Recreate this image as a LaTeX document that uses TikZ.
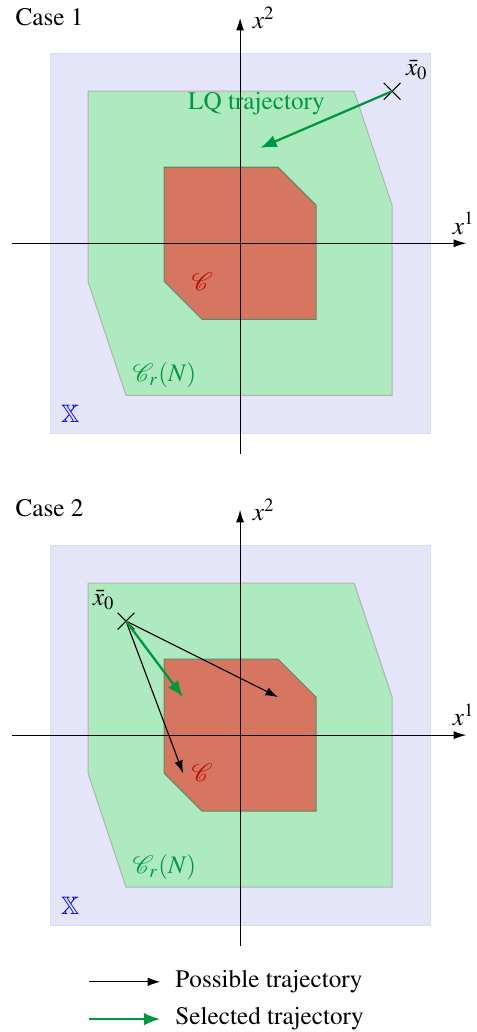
\documentclass[tikz,border=0pt]{standalone}
\usepackage[T1]{fontenc}
\usepackage{amssymb}
\usepackage{mathrsfs}
\usepackage{mathptmx}
\usetikzlibrary{arrows.meta, positioning, shapes.misc}

\definecolor{setX}{RGB}{229,229,250}
\definecolor{setXborder}{RGB}{220,220,240}
\definecolor{setCrN}{RGB}{174,234,192}
\definecolor{setC}{RGB}{214,118,96}
\definecolor{setCborder}{RGB}{95,135,100}
\definecolor{lqgreen}{RGB}{0,152,62}
\definecolor{cred}{RGB}{185,10,10}

\tikzset{
  axis/.style={-{Latex[length=5pt,width=3.2pt]}, line width=0.45pt},
  traj/.style={-{Latex[length=5pt,width=3.4pt]}, line width=0.45pt},
  seltraj/.style={-{Latex[length=6.5pt,width=5pt]}, lqgreen, line width=0.9pt},
  xmark/.style={cross out, draw, line width=0.45pt, minimum size=6.2pt, inner sep=0pt},
}

\begin{document}
\begin{tikzpicture}[x=0.53cm, y=0.53cm]
  \useasboundingbox (-6.316,6.40) rectangle (6.21,-20.75);

  % 領域と座標軸（両ケース共通）
  \foreach \cs/\dy in {1/0, 2/-12.94}{
    \begin{scope}[shift={(0,\dy)}]
      \filldraw[fill=setX, draw=setXborder] (-5,-5) rectangle (5,5);
      \filldraw[fill=setCrN, draw=gray!60, thin] (-4,4) -- (3,4) -- (4,1) -- (4,-4) -- (-3,-4) -- (-4,-1) -- cycle;
      \filldraw[fill=setC, draw=setCborder, thin] (-2,2) -- (1,2) -- (2,1) -- (2,-2) -- (-1,-2) -- (-2,-1) -- cycle;

      \coordinate (xl\cs) at (-6,0);
      \coordinate (xr\cs) at (5.95,0);
      \coordinate (yb\cs) at (0,-5.55);
      \coordinate (yt\cs) at (0,5.93);
      \draw[axis] (xl\cs) -- (xr\cs);
      \draw[axis] (yb\cs) -- (yt\cs);
      \node[above, xshift=-1pt] (lxa\cs) at (xr\cs) {$x^1$};
      \node[right, xshift=1.5pt] (lxb\cs) at (yt\cs) {$x^2$};

      % 集合のラベル
      \node[cred] (lc\cs) at (-1,-1) {$\mathscr{C}$};
      \node[lqgreen] (lcr\cs) at (-1.99,-3.47) {$\mathscr{C}_r(N)$};
      \node[blue] (lx\cs) at (-4.47,-4.49) {$\mathbb{X}$};
      \node[anchor=base west, inner sep=0pt] (case\cs) at (-5.92,5.74) {Case \cs};
    \end{scope}
  }

  % Case 1: LQ軌道
  \node[xmark] (xa) at (4,4) {};
  \node[above right=0pt and 1pt of xa, inner sep=1pt] (lxa) {$\bar{x}_0$};
  \coordinate (lqend) at (0.53,2.51);
  \draw[seltraj] (xa.center) -- (lqend);
  \node[lqgreen] (lq) at (0.43,3.66) {LQ trajectory};

  % Case 2: 候補の軌道
  \begin{scope}[shift={(0,-12.94)}]
    \node[xmark] (xb) at (-3,3) {};
    \node[above left=0pt and 0pt of xb, inner sep=1pt] (lxb) {$\bar{x}_0$};
    \coordinate (ta) at (1,1);
    \coordinate (tb) at (-1.5,-1);
    \coordinate (tc) at (-1.5,1);
    \draw[traj] (xb.center) -- (ta);
    \draw[traj] (xb.center) -- (tb);
    \draw[seltraj] (xb.center) -- (tc);

    % 凡例
    \coordinate (pa) at (-3.97,-6.49);
    \coordinate (pb) at (-2.1,-6.49);
    \coordinate (sa) at (-3.97,-7.47);
    \coordinate (sb) at (-2.1,-7.47);
    \draw[traj] (pa) -- (pb);
    \draw[seltraj] (sa) -- (sb);
    \node[right=2.5pt of pb] (lpos) {Possible trajectory};
    \node[right=2.5pt of sb] (lsel) {Selected trajectory};
  \end{scope}
\end{tikzpicture}
\end{document}
